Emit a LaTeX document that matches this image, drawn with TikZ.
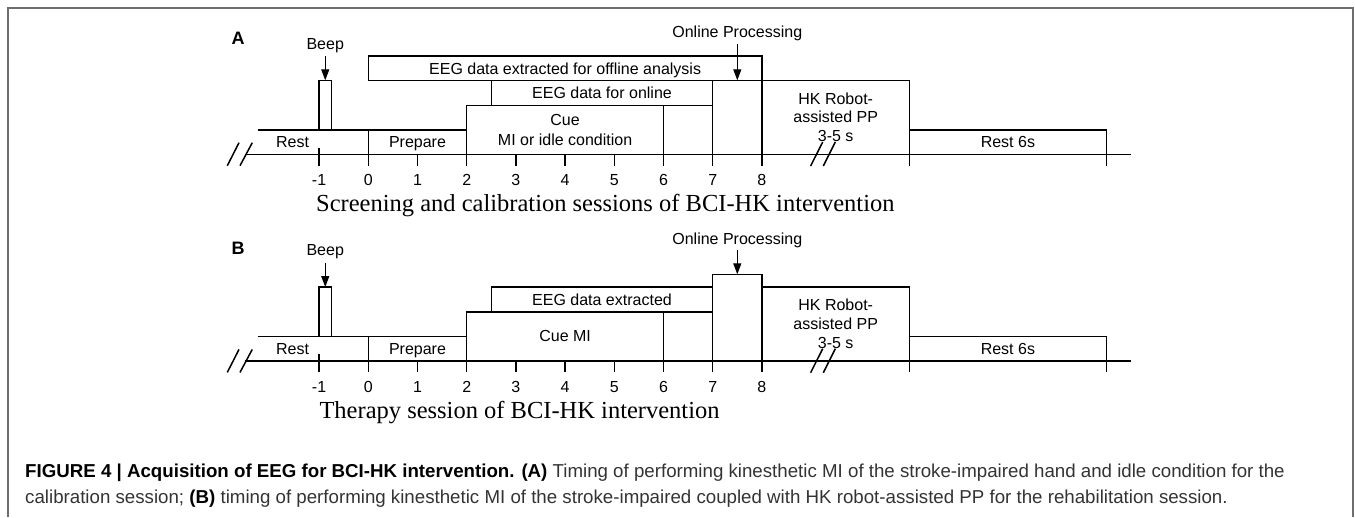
\documentclass[tikz,border=0pt]{standalone}
\usepackage{fontspec}
\setmainfont{Liberation Serif}
\setsansfont{Liberation Sans}
\usetikzlibrary{arrows.meta}
\definecolor{framegray}{HTML}{6E6E6E}
\definecolor{captext}{HTML}{333333}

\begin{document}
\begin{tikzpicture}[x=1pt,y=-1pt,
    every node/.style={inner sep=0pt},
    lbl/.style={font=\sffamily\fontsize{16}{19}\selectfont,text height=11.5pt,text depth=0pt},
    panel/.style={font=\sffamily\bfseries\fontsize{18}{21}\selectfont,text height=12.9pt,text depth=0pt},
    ttl/.style={font=\fontsize{24.5}{28}\selectfont,anchor=base west},
    captxt/.style={font=\sffamily\fontsize{18.7}{26}\selectfont,anchor=base west,text=captext},
    tl/.style={line width=1.5pt},
    pointer/.style={line width=1.2pt,-{Triangle[length=11pt,width=8pt]}}]
\useasboundingbox (0,0) rectangle (1355,517);
\draw[framegray,line width=2pt] (8,517) -- (8,7.5) -- (1353,7.5) -- (1353,517);

% time axis: one unit = one second
\begin{scope}[xshift=368.3pt,x=49.2pt]
\foreach \off/\p/\optop in {0/A/80.3,206.7/B/67.6}{
  \begin{scope}[yshift=-\off pt]
    % axis, ticks and the parts both sessions share
    \draw[tl] (-2.5,154.3) -- (15.5,154.3);
    \draw[tl] (-2.25,130) -- (2,130) (0,130) -- (0,165.7);
    \draw[tl] (-1,130) -- (-1,80.3) -- (-0.75,80.3) -- (-0.75,130);
    \draw[tl] (-1,147.7) -- (-1,165.7);
    \foreach \t in {1,3,4,5} \draw[tl] (\t,154.3) -- (\t,165.7);
    \draw[tl] (2,165.7) -- (2,105.3) -- (7,105.3) (6,105.3) -- (6,165.7);
    \draw[tl] (7,165.7) -- (7,\optop) -- (8,\optop) -- (8,165.7);
    \draw[tl] (8,80.3) -- (11,80.3) -- (11,165.7) (11,130) -- (15,130) -- (15,165.7);
    \draw[tl] (2.5,105.3) -- (2.5,80.3);
    % axis breaks
    \draw[tl] (-2.866,165.7) -- (-2.628,142.7) (-2.608,165.7) -- (-2.358,142.7);
    \draw[tl] (8.99,166) -- (9.236,142) (9.248,166) -- (9.492,142);
    \foreach \t in {-1,...,8} \node[lbl] (tk\p\t) at (\t,180) {\t};
    \node[lbl] (beep\p) at (-0.875,43.3) {Beep};
    \coordinate (beeptop\p) at (-0.875,80.3);
    \draw[pointer] ([yshift=-7pt]beep\p.south) -- (beeptop\p);
    \node[lbl] (onl\p) at (7.5,31.7) {Online Processing};
    \coordinate (optop\p) at (7.5,\optop);
    \draw[pointer] ([yshift=-6pt]onl\p.south) -- (optop\p);
    \node[lbl] (rest\p) at (-1.54,141.7) {Rest};
    \node[lbl] (prep\p) at (1,141.7) {Prepare};
    \node[lbl] (hka\p) at (9.5,98.3) {HK Robot-};
    \node[lbl] (hkb\p) at (9.5,116.7) {assisted PP};
    \node[lbl] (hkc\p) at (9.5,136) {3-5 s};
    \node[lbl] (rsix\p) at (13,141.7) {Rest 6s};
  \end{scope}
}
% A: screening and calibration
\draw[tl] (0,80.3) -- (0,56) -- (8,56) -- (8,80.3) (0,80.3) -- (8,80.3);
\node[panel] (labA) at (-2.648,37.8) {A};
\node[lbl] (offA) at (4,68.3) {EEG data extracted for offline analysis};
\node[lbl] (onA) at (4.75,92.8) {EEG data for online};
\node[lbl] (cueA) at (4,119.3) {Cue};
\node[lbl] (miA) at (4,139.3) {MI or idle condition};
% B: therapy
\begin{scope}[yshift=-206.7pt]
\draw[tl] (2.5,80.3) -- (7,80.3);
\node[panel] (labB) at (-2.648,41.1) {B};
\node[lbl] (exB) at (4.75,92.8) {EEG data extracted};
\node[lbl] (cueB) at (4,129.3) {Cue MI};
\end{scope}
\end{scope}

\node[ttl] (ttlA) at (316,211.7) {Screening and calibration sessions of BCI-HK intervention};
\node[ttl] (ttlB) at (319.3,418.3) {Therapy session of BCI-HK intervention};

\node[captxt] (capa) at (25,477) {{\bfseries\color{black}FIGURE 4 | Acquisition of EEG for BCI-HK intervention. (A)} Timing of performing kinesthetic MI of the stroke-impaired hand and idle condition for the};
\node[captxt] (capb) at (25,503) {calibration session; {\bfseries\color{black}(B)} timing of performing kinesthetic MI of the stroke-impaired coupled with HK robot-assisted PP for the rehabilitation session.};
\end{tikzpicture}
\end{document}
